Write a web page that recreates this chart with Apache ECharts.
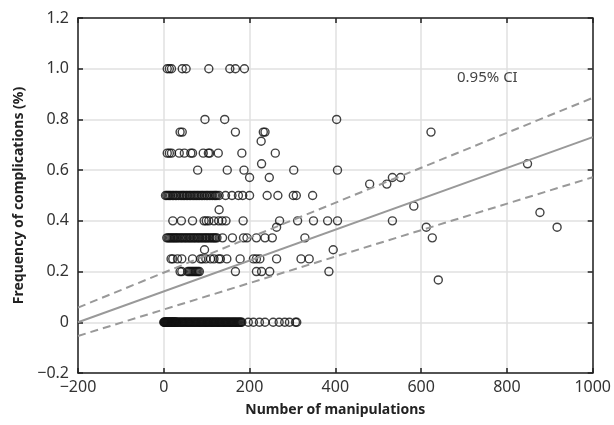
<!DOCTYPE html>
<html>
<head>
<meta charset="utf-8">
<script src="https://cdn.jsdelivr.net/npm/echarts@6/dist/echarts.min.js"></script>
<style>
  html, body { margin: 0; padding: 0; background: #fff; }
  #chart { width: 614px; height: 425px; }
</style>
</head>
<body>
<div id="chart"></div>
<script>
// frequency levels and the manipulation counts seen on each level
const yLevels = [1.0, 0.8, 0.75, 0.667, 0.6, 0.5, 0.4, 0.333, 0.25, 0.2, 0];
const xAtLevel = [
  [8, 13, 18, 43, 52, 105, 154, 167, 188],
  [96, 142, 403],
  [38, 43, 167, 232, 236],
  [8, 13, 18, 36, 48, 63, 67, 92, 104, 107, 127, 182, 260],
  [79, 148, 187, 303, 405],
  [4, 7, 10, 13, 16, 20, 23, 27, 30, 34, 38, 42, 45, 48, 52, 55, 59, 62, 66, 70, 73, 77, 80, 84, 88, 91, 95, 99,
   102, 106, 110, 114, 118, 121, 124, 129, 144, 159, 174, 184, 200, 241, 266, 302, 309, 347],
  [21, 41, 67, 94, 99, 105, 117, 128, 136, 145, 185, 270, 312, 349, 382, 405, 533],
  [7, 10, 13, 16, 19, 22, 25, 28, 31, 34, 38, 41, 44, 48, 51, 54, 58, 61, 64, 68, 71, 74, 78, 81, 84, 88, 91, 95,
   98, 101, 105, 108, 112, 115, 118, 121, 124, 137, 160, 186, 194, 216, 236, 253, 329, 626],
  [17, 21, 32, 42, 67, 86, 90, 98, 109, 117, 128, 132, 147, 178, 209, 216, 224, 263, 320, 339],
  [38, 42, 56, 59, 62, 65, 68, 71, 74, 77, 80, 83, 167, 216, 228, 247, 385],
  [0, 1, 2, 3, 4, 5, 6, 7, 8, 9, 10, 11, 12, 13, 14, 15, 16, 17, 18, 19, 20, 21, 22, 23, 24, 25, 26, 27, 28, 29,
   30, 32, 34, 36, 38, 40, 42, 44, 46, 48, 50, 52, 54, 56, 58, 60, 62, 64, 66, 68, 70, 72, 74, 76, 78, 80,
   82, 84, 86, 88, 90, 92, 94, 96, 98, 100, 102, 104, 106, 108, 110, 112, 114, 116, 118, 120, 122, 124, 126,
   128, 130, 132, 134, 136, 138, 140, 142, 144, 146, 148, 150, 152, 154, 156, 158, 160, 162, 164, 166, 168,
   170, 172, 174, 176, 178, 180, 182, 197, 209, 223, 236, 255, 269, 282, 293, 307, 310]
];

// points off the common levels
const otherX = [227, 228, 200, 246, 129, 263, 612, 917, 95, 395, 480, 520, 533, 552, 583, 640, 623, 848, 877];
const otherY = [0.714, 0.625, 0.571, 0.571, 0.444, 0.375, 0.375, 0.375, 0.286, 0.286, 0.545, 0.545, 0.571, 0.571, 0.458, 0.167, 0.75, 0.625, 0.433];

// regression line and 95% CI bounds
const fitX = [-200, 1000];
const fitY = [0.0, 0.73];
const ciUpper = [0.058, 0.885];
const ciLower = [-0.054, 0.572];

const points = [];
yLevels.forEach((y, i) => xAtLevel[i].forEach(x => points.push([x, y])));
otherX.forEach((x, i) => points.push([x, otherY[i]]));

const fontFamily = 'Noto Sans';
const minus = s => s.replace('-', '\u2212');
const frame = { onZero: false, lineStyle: { color: '#222', width: 1.5 } };
const ticks = { show: true, inside: true, length: 5, lineStyle: { color: '#222', width: 1.5 } };

const chart = echarts.init(document.getElementById('chart'));
chart.setOption({
  animation: false,
  textStyle: { fontFamily: fontFamily },
  grid: { left: 78, right: 17, top: 18, bottom: 52 },
  graphic: [{
    type: 'text', left: 457, top: 70, z: 10,
    style: { text: '0.95% CI', fontFamily: fontFamily, fontSize: 15, fill: '#444' }
  }],
  xAxis: [
    {
      type: 'value', min: -200, max: 1000, interval: 200,
      name: 'Number of manipulations', nameLocation: 'middle', nameGap: 30,
      nameTextStyle: { fontSize: 14, fontWeight: 'bold', color: '#222' },
      axisLine: frame, axisTick: ticks,
      axisLabel: { fontSize: 16, color: '#333', margin: 6, formatter: v => minus(String(v)) },
      splitLine: { lineStyle: { color: '#e0e0e0', width: 1.5 } }
    },
    {
      type: 'value', min: -200, max: 1000, interval: 200, position: 'top',
      axisLine: frame, axisTick: ticks,
      axisLabel: { show: false }, splitLine: { show: false }
    }
  ],
  yAxis: [
    {
      type: 'value', min: -0.2, max: 1.2, interval: 0.2,
      name: 'Frequency of complications (%)', nameLocation: 'middle', nameGap: 52,
      nameTextStyle: { fontSize: 14, fontWeight: 'bold', color: '#222' },
      axisLine: Object.assign({ show: true }, frame), axisTick: ticks,
      axisLabel: {
        fontSize: 16, color: '#333', margin: 9,
        formatter: v => Math.abs(v) < 1e-9 ? '0' : minus(v.toFixed(1))
      },
      splitLine: { lineStyle: { color: '#e0e0e0', width: 1.5 } }
    },
    {
      type: 'value', min: -0.2, max: 1.2, interval: 0.2, position: 'right',
      axisLine: Object.assign({ show: true }, frame), axisTick: ticks,
      axisLabel: { show: false }, splitLine: { show: false }
    }
  ],
  series: [
    {
      type: 'line', data: fitX.map((x, i) => [x, ciUpper[i]]), symbol: 'none',
      lineStyle: { color: '#999', width: 2, type: [8, 5] }
    },
    {
      type: 'line', data: fitX.map((x, i) => [x, ciLower[i]]), symbol: 'none',
      lineStyle: { color: '#999', width: 2, type: [8, 5] }
    },
    {
      type: 'line', data: fitX.map((x, i) => [x, fitY[i]]), symbol: 'none',
      lineStyle: { color: '#999', width: 2 }
    },
    {
      type: 'scatter', data: points, symbol: 'circle', symbolSize: 8,
      itemStyle: { color: 'rgba(0,0,0,0)', borderColor: '#111', borderWidth: 1.4 }
    }
  ]
});
</script>
</body>
</html>
